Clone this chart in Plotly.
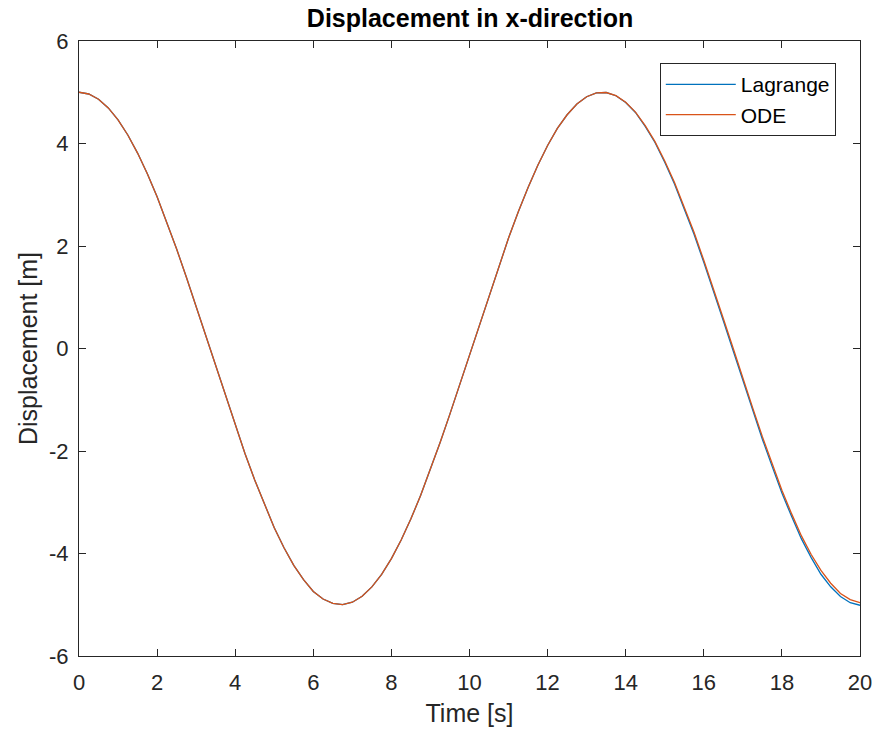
import plotly.graph_objects as go

time_s = [0.0, 0.25, 0.5, 0.75, 1.0, 1.25, 1.5, 1.75, 2.0, 2.25, 2.5, 2.75, 3.0, 3.25,
          3.5, 3.75, 4.0, 4.25, 4.5, 4.75, 5.0, 5.25, 5.5, 5.75, 6.0, 6.25, 6.5, 6.75,
          7.0, 7.25, 7.5, 7.75, 8.0, 8.25, 8.5, 8.75, 9.0, 9.25, 9.5, 9.75, 10.0, 10.25,
          10.5, 10.75, 11.0, 11.25, 11.5, 11.75, 12.0, 12.25, 12.5, 12.75, 13.0, 13.25,
          13.5, 13.75, 14.0, 14.25, 14.5, 14.75, 15.0, 15.25, 15.5, 15.75, 16.0, 16.25,
          16.5, 16.75, 17.0, 17.25, 17.5, 17.75, 18.0, 18.25, 18.5, 18.75, 19.0, 19.25,
          19.5, 19.75, 20.0]

ode = [5.000, 4.966, 4.863, 4.694, 4.460, 4.166, 3.813, 3.409, 2.959, 2.465, 1.941,
       1.390, 0.817, 0.234, -0.351, -0.932, -1.500, -2.050, -2.567, -3.050, -3.498,
       -3.889, -4.232, -4.510, -4.740, -4.889, -4.972, -4.999, -4.951, -4.835, -4.652,
       -4.406, -4.100, -3.737, -3.323, -2.865, -2.363, -1.830, -1.276, -0.701, -0.117,
       0.468, 1.047, 1.610, 2.156, 2.669, 3.143, 3.576, 3.960, 4.295, 4.561, 4.771,
       4.912, 4.988, 4.995, 4.934, 4.804, 4.612, 4.350, 4.036, 3.658, 3.240, 2.768,
       2.268, 1.721, 1.170, 0.585, 0.009, -0.584, -1.153, -1.720, -2.253, -2.767,
       -3.227, -3.657, -4.020, -4.330, -4.580, -4.780, -4.900, -4.960]

lagrange = [5.000, 4.966, 4.863, 4.694, 4.460, 4.166, 3.813, 3.409, 2.959, 2.465, 1.941,
            1.390, 0.817, 0.234, -0.351, -0.932, -1.500, -2.050, -2.567, -3.050, -3.498,
            -3.889, -4.232, -4.510, -4.740, -4.889, -4.972, -4.999, -4.951, -4.835, -4.652,
            -4.406, -4.100, -3.737, -3.323, -2.865, -2.363, -1.830, -1.276, -0.701, -0.117,
            0.468, 1.047, 1.610, 2.156, 2.669, 3.143, 3.576, 3.960, 4.295, 4.561, 4.771,
            4.912, 4.988, 4.995, 4.932, 4.800, 4.605, 4.335, 4.020, 3.635, 3.210, 2.735,
            2.230, 1.680, 1.125, 0.540, -0.040, -0.630, -1.200, -1.770, -2.300, -2.820,
            -3.280, -3.715, -4.080, -4.405, -4.650, -4.840, -4.960, -5.010]

x_ticks = [0, 2, 4, 6, 8, 10, 12, 14, 16, 18, 20]
y_ticks = [-6, -4, -2, 0, 2, 4, 6]
y_tick_text = ["-6", "-4", "-2", "0", "2", "4", "6"]

font = "Liberation Sans, Arial, sans-serif"
axis_col = "#262626"

fig = go.Figure()
fig.add_trace(go.Scatter(x=time_s, y=lagrange, mode="lines", name="Lagrange",
                         line=dict(color="#0072BD", width=1.3)))
fig.add_trace(go.Scatter(x=time_s, y=ode, mode="lines", name="ODE",
                         line=dict(color="#D95319", width=1.3)))

axis_common = dict(showline=True, mirror="ticks", linecolor=axis_col, linewidth=1,
                   ticks="inside", ticklen=7, tickcolor=axis_col, showgrid=False,
                   zeroline=False, automargin=False,
                   tickfont=dict(family=font, size=22, color=axis_col))

fig.update_xaxes(range=[0, 20], tickvals=x_ticks, ticklabelstandoff=7,
                 title=dict(text="Time [s]", font=dict(family=font, size=25, color=axis_col), standoff=10),
                 **axis_common)
fig.update_yaxes(range=[-6, 6], tickvals=y_ticks, ticktext=y_tick_text, ticklabelstandoff=5,
                 title=dict(text="Displacement [m]", font=dict(family=font, size=25, color=axis_col), standoff=4),
                 **axis_common)

fig.update_layout(
    width=877, height=733,
    margin=dict(l=79, r=17, t=41, b=77),
    paper_bgcolor="white", plot_bgcolor="white",
    title=dict(text="<b>Displacement in x-direction</b>", x=0.536, xanchor="center",
               y=0.975, yanchor="middle", font=dict(family=font, size=25, color="black")),
    legend=dict(x=0.969, y=0.964, xanchor="right", yanchor="top",
                bgcolor="white", bordercolor=axis_col, borderwidth=1,
                font=dict(family=font, size=21, color="black"),
                tracegroupgap=0, itemwidth=70),
    showlegend=True,
)

fig.write_html("out.html")
